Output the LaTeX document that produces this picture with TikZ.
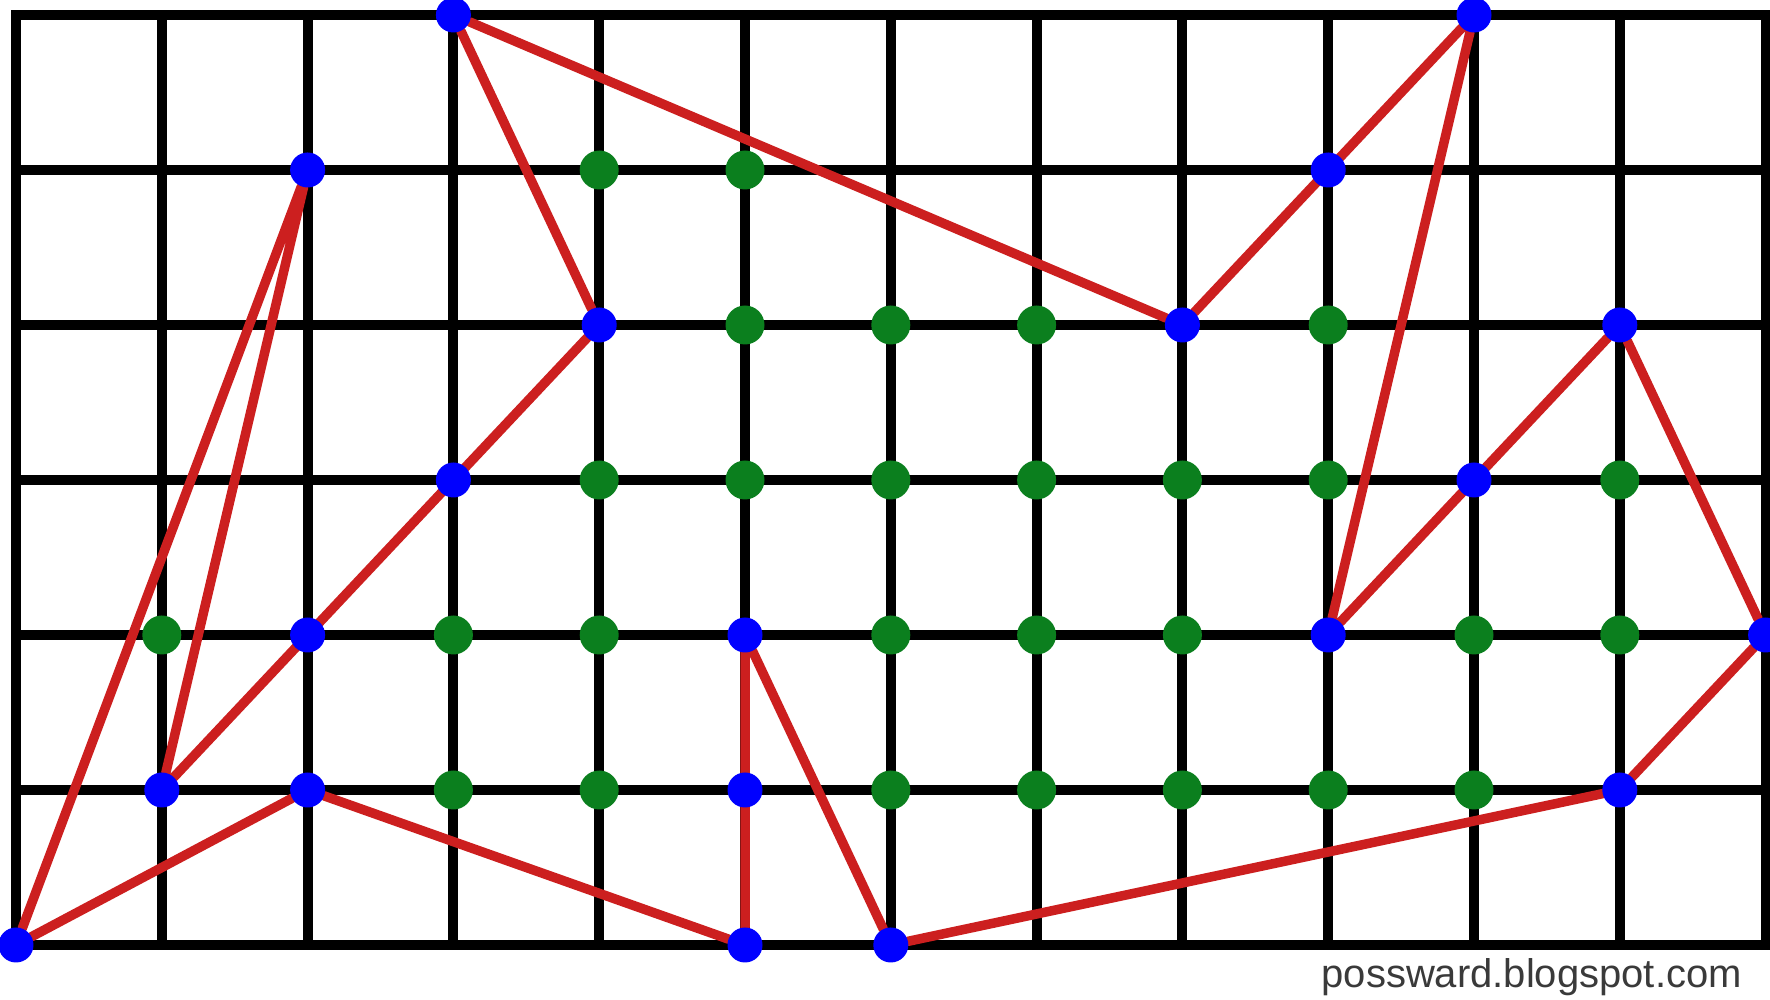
\documentclass[tikz,border=0pt]{standalone}
\usepackage{fontspec}
\setmainfont{Liberation Sans}
\usepackage{tikz}
\usetikzlibrary{backgrounds}
\definecolor{edgered}{HTML}{CC1F1F}
\definecolor{bndblue}{HTML}{0000FF}
\definecolor{intgreen}{HTML}{0B7F1E}
\definecolor{creditgray}{HTML}{3A3A3A}

\begin{document}
\begin{tikzpicture}[
    x=145.8pt, y=155pt,
    gridline/.style={draw=black, line width=10pt, line cap=rect},
    edge/.style={draw=edgered, line width=9.5pt, line join=round, line cap=round},
    bpoint/.style={circle, fill=bndblue, inner sep=0pt, minimum size=35pt},
    ipoint/.style={circle, fill=intgreen, inner sep=0pt, minimum size=39pt},
    credit/.style={font=\fontsize{40}{40}\selectfont, text=creditgray,
                   inner sep=0pt}
]
\useasboundingbox (-16pt,-55pt) rectangle (1754pt,945pt);

% Boundary points (blue)
\foreach \x/\y in {3/6, 10/6, 2/5, 9/5, 4/4, 8/4, 11/4, 3/3, 10/3, 2/2, 5/2,
                   9/2, 12/2, 1/1, 2/1, 5/1, 11/1, 0/0, 5/0, 6/0}
    \node[bpoint] (b-\x-\y) at (\x,\y) {};

% Interior points (green)
\foreach \x/\y in {4/5, 5/5, 5/4, 6/4, 7/4, 9/4, 4/3, 5/3, 6/3, 7/3, 8/3, 9/3,
                   11/3, 1/2, 3/2, 4/2, 6/2, 7/2, 8/2, 10/2, 11/2, 3/1, 4/1,
                   6/1, 7/1, 8/1, 9/1, 10/1}
    \node[ipoint] (i-\x-\y) at (\x,\y) {};

\begin{pgfonlayer}{background}
% Grid
\foreach \x in {0,...,12}
    \draw[gridline] (\x,0) -- (\x,6);
\foreach \y in {0,...,6}
    \draw[gridline] (0,\y) -- (12,\y);

% Polygon
\draw[edge] (b-4-4) -- (b-3-6) -- (b-8-4) -- (b-10-6) -- (b-9-2)
    -- (b-11-4) -- (b-12-2) -- (b-11-1) -- (b-6-0) -- (b-5-2) -- (b-5-0)
    -- (b-2-1) -- (b-0-0) -- (b-2-5) -- (b-1-1) -- (b-4-4);
\end{pgfonlayer}

\node[credit, anchor=base east] (site) at (1726pt,-43pt)
    {possward.blogspot.com};

\end{tikzpicture}
\end{document}
